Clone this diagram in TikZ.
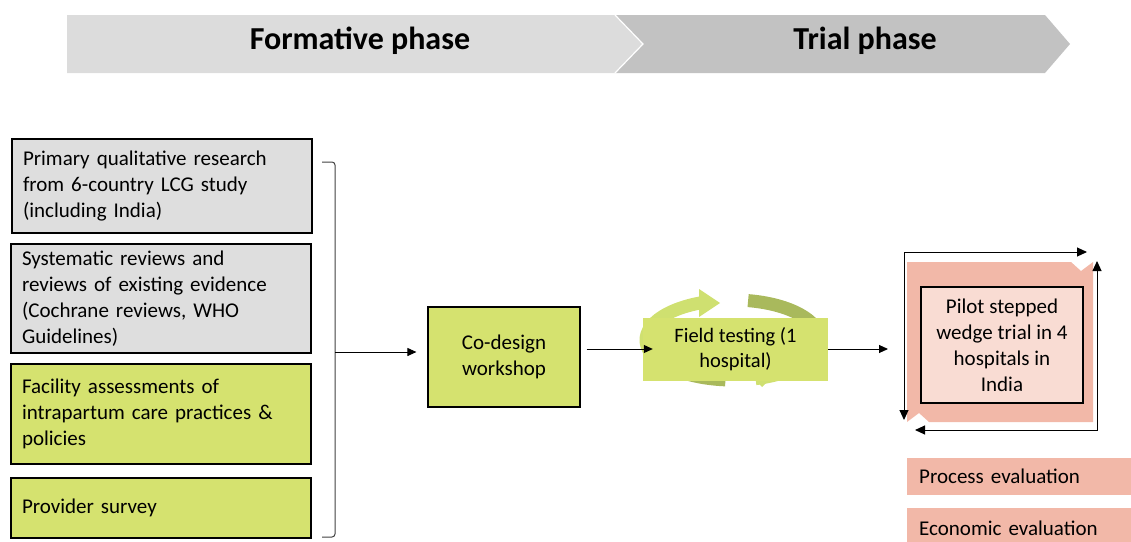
\documentclass[tikz,border=0pt]{standalone}
\usepackage{fontspec}
\setmainfont{Carlito}
\usetikzlibrary{arrows.meta}
\definecolor{limebox}{HTML}{D5E26F}
\definecolor{greybox}{HTML}{DEDEDE}
\definecolor{bannerL}{HTML}{DCDCDC}
\definecolor{bannerR}{HTML}{C2C2C2}
\definecolor{lightring}{HTML}{CFE070}
\definecolor{darkring}{HTML}{A9B95C}
\definecolor{salmon}{HTML}{F2B8A8}
\definecolor{pinkbox}{HTML}{F9DCD3}
\begin{document}
\begin{tikzpicture}[x=1pt,y=-1pt,
  title/.style={font=\fontsize{32}{36}\selectfont\bfseries, text=black},
  leftbox/.style={draw=black, line width=1.2pt, text width=278pt, align=left,
    inner xsep=11pt, inner ysep=0pt, minimum width=300pt,
    font=\fontsize{21}{26}\selectfont},
  midbox/.style={align=center, inner sep=0pt, font=\fontsize{20}{26}\selectfont},
  evalbox/.style={fill=salmon, anchor=north west, minimum width=240pt, align=left,
    text width=216pt, inner xsep=12pt, inner ysep=0pt, font=\fontsize{21}{26}\selectfont},
  arr/.style={-{Triangle[length=9pt,width=8pt]}, line width=1pt, black},
  cyc/.style={{Triangle[length=10pt,width=9pt]}-{Triangle[length=10pt,width=9pt]}, line width=1pt, black},
  ring/.style={line width=13pt}
]
\useasboundingbox (0,0) rectangle (1131,541);

% banner
\fill[bannerL] (67,15) -- (615,15) -- (643,44) -- (615,73) -- (67,73) -- cycle;
\fill[bannerR] (615,15) -- (1045,15) -- (1070,44) -- (1045,73) -- (615,73) -- (643,44) -- cycle;
\draw[white, line width=1.2pt] (615,15) -- (643,44) -- (615,73);
\node[title] (formative) at (360,41) {Formative phase};
\node[title] (trialphase) at (865,41) {Trial phase};

% left boxes
\node[leftbox, fill=greybox, minimum height=94pt] (b1) at (162,186)
  {Primary qualitative research\\from 6-country LCG study\\(including India)};
\node[leftbox, fill=greybox, minimum height=109pt] (b2) at (161,298.5)
  {Systematic reviews and\\reviews of existing evidence\\(Cochrane reviews, WHO\\Guidelines)};
\node[leftbox, fill=limebox, minimum height=100pt] (b3) at (161,414)
  {Facility assessments of\\intrapartum care practices \&\\policies};
\node[leftbox, fill=limebox, minimum height=60pt] (b4) at (161,508)
  {Provider survey};

% bracket
\draw[line width=1pt, black!75, rounded corners=3pt] (322,162) -- (335,162) -- (335,537) -- (322,537);
\coordinate (brace) at (335,352);
\draw[line width=1pt, black!75] (brace) -- (341,352);

% co-design
\node[draw=black, line width=1.2pt, fill=limebox, minimum width=152pt, minimum height=100pt,
  midbox, font=\fontsize{21}{26}\selectfont] (codesign) at (504,357) {Co-design\\workshop};

% field testing cycle graphic
\begin{scope}[shift={(733,340)}, yscale=-1]
  \draw[ring, darkring] (265:87 and 40) arc[start angle=265, end angle=195, x radius=87, y radius=40];
  \draw[ring, lightring] (200:87 and 40) arc[start angle=200, end angle=110, x radius=87, y radius=40];
  \fill[lightring] (-34,51) -- (-13,37) -- (-34,23) -- cycle;
  \draw[ring, darkring] (80:87 and 40) arc[start angle=80, end angle=0, x radius=87, y radius=40];
  \draw[ring, lightring] (350:87 and 40) arc[start angle=350, end angle=285, x radius=87, y radius=40];
  \fill[lightring] (18,-36) -- (40,-36) -- (29,-47) -- cycle;
\end{scope}
\node[fill=limebox, minimum width=185pt, minimum height=63pt, midbox,
  font=\fontsize{20.5}{25}\selectfont] (field) at (735.5,349)
  {Field testing (1\\hospital)};

% trial
\coordinate (trialouter) at (1000,342);
\fill[salmon] (907,262) -- (1071,262) -- (1081,271) -- (1093,262) -- (1093,422)
  -- (929,422) -- (919,413) -- (907,422) -- cycle;
\node[draw=black, line width=1.2pt, fill=pinkbox, minimum width=162pt, minimum height=116pt,
  midbox, font=\fontsize{21}{26}\selectfont] (pilot) at (1002,345)
  {Pilot stepped\\wedge trial in 4\\hospitals in\\India};
\coordinate (c1) at (904,420);
\coordinate (c2) at (904,252);
\coordinate (c3) at (1087,252);
\coordinate (c4) at (1097,261);
\coordinate (c5) at (1097,430);
\coordinate (c6) at (915,430);
\draw[cyc] (c1) -- (c2) -- (c3);
\draw[cyc] (c4) -- (c5) -- (c6);

\node[evalbox, minimum height=37pt] (proc) at (907,458) {Process evaluation};
\node[evalbox, minimum height=40pt] (econ) at (907,508) {Economic evaluation};

% connectors
\draw[arr, shorten >=11pt] (brace) -- (brace -| codesign.west);
\draw[arr, shorten <=6pt, shorten >=-10pt] (codesign.east |- field.west) -- (field.west);
\draw[arr] (field.east) -- (888,349);
\end{tikzpicture}
\end{document}
